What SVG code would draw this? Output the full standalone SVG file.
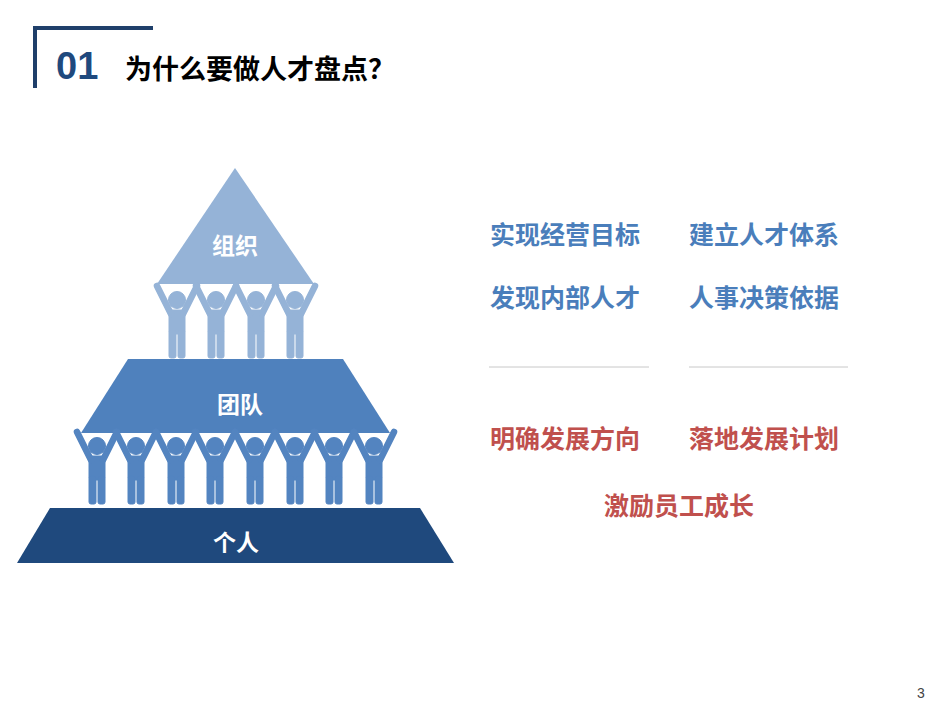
<svg xmlns="http://www.w3.org/2000/svg" width="950" height="713" viewBox="0 0 950 713">
<style>
text{font-family:"Liberation Sans","Noto Sans CJK SC",sans-serif;font-weight:bold}
.b{fill:#4a7ebb;font-size:25px}
.r{fill:#c0504d;font-size:25px}
.w{fill:#fff;font-size:23px}
</style>
<defs>
<g id="fig">
<circle cx="0" cy="0" r="8.5"/>
<rect x="-8" y="10" width="16" height="24" rx="3"/>
<rect x="-8" y="30" width="7" height="28" rx="2"/>
<rect x="1" y="30" width="7" height="28" rx="2"/>
<path d="M-6,14 L-20,-14 M6,14 L20,-14" stroke-width="6.5" stroke-linecap="round" fill="none"/>
</g>
</defs>
<rect width="950" height="713" fill="#fff"/>
<g id="header">
<path d="M35,88 V28 H153" fill="none" stroke="#1f3f6a" stroke-width="4"/>
<text x="56" y="79" font-size="38" fill="#1f497d" font-weight="normal" style="font-weight:bold">01</text>
<text x="125" y="79" font-size="27" fill="#000">为什么要做人才盘点？</text>
</g>
<g id="org">
<polygon points="235,168 314,284 157,284" fill="#95b3d7"/>
<text x="235" y="254" text-anchor="middle" class="w">组织</text>
</g>
<g id="topfigs" fill="#95b3d7" stroke="#95b3d7">
<use href="#fig" x="177" y="300"/><use href="#fig" x="216" y="300"/><use href="#fig" x="256" y="300"/><use href="#fig" x="295" y="300"/>
</g>
<g id="team">
<polygon points="128,359 343,359 390,433 81,433" fill="#4f81bd"/>
<text x="240" y="413" text-anchor="middle" class="w">团队</text>
</g>
<g id="botfigs" fill="#5384c0" stroke="#5384c0">
<use href="#fig" x="97" y="446"/><use href="#fig" x="136" y="446"/><use href="#fig" x="176" y="446"/><use href="#fig" x="215" y="446"/>
<use href="#fig" x="255" y="446"/><use href="#fig" x="295" y="446"/><use href="#fig" x="334" y="446"/><use href="#fig" x="374" y="446"/>
</g>
<g id="individual">
<polygon points="50,508 420,508 454,563 17,563" fill="#1f497d"/>
<text x="236" y="551" text-anchor="middle" class="w">个人</text>
</g>
<g id="labels">
<text x="490" y="244" class="b">实现经营目标</text>
<text x="689" y="244" class="b">建立人才体系</text>
<text x="490" y="307" class="b">发现内部人才</text>
<text x="689" y="307" class="b">人事决策依据</text>
<text x="490" y="448" class="r">明确发展方向</text>
<text x="689" y="448" class="r">落地发展计划</text>
<text x="604" y="515" class="r">激励员工成长</text>
</g>
<g id="lines" stroke="#c8c8c8" stroke-width="1">
<line x1="489" y1="367" x2="649" y2="367"/>
<line x1="689" y1="367" x2="848" y2="367"/>
</g>
<text x="917" y="698" font-size="14" fill="#444" style="font-weight:normal">3</text>
</svg>
